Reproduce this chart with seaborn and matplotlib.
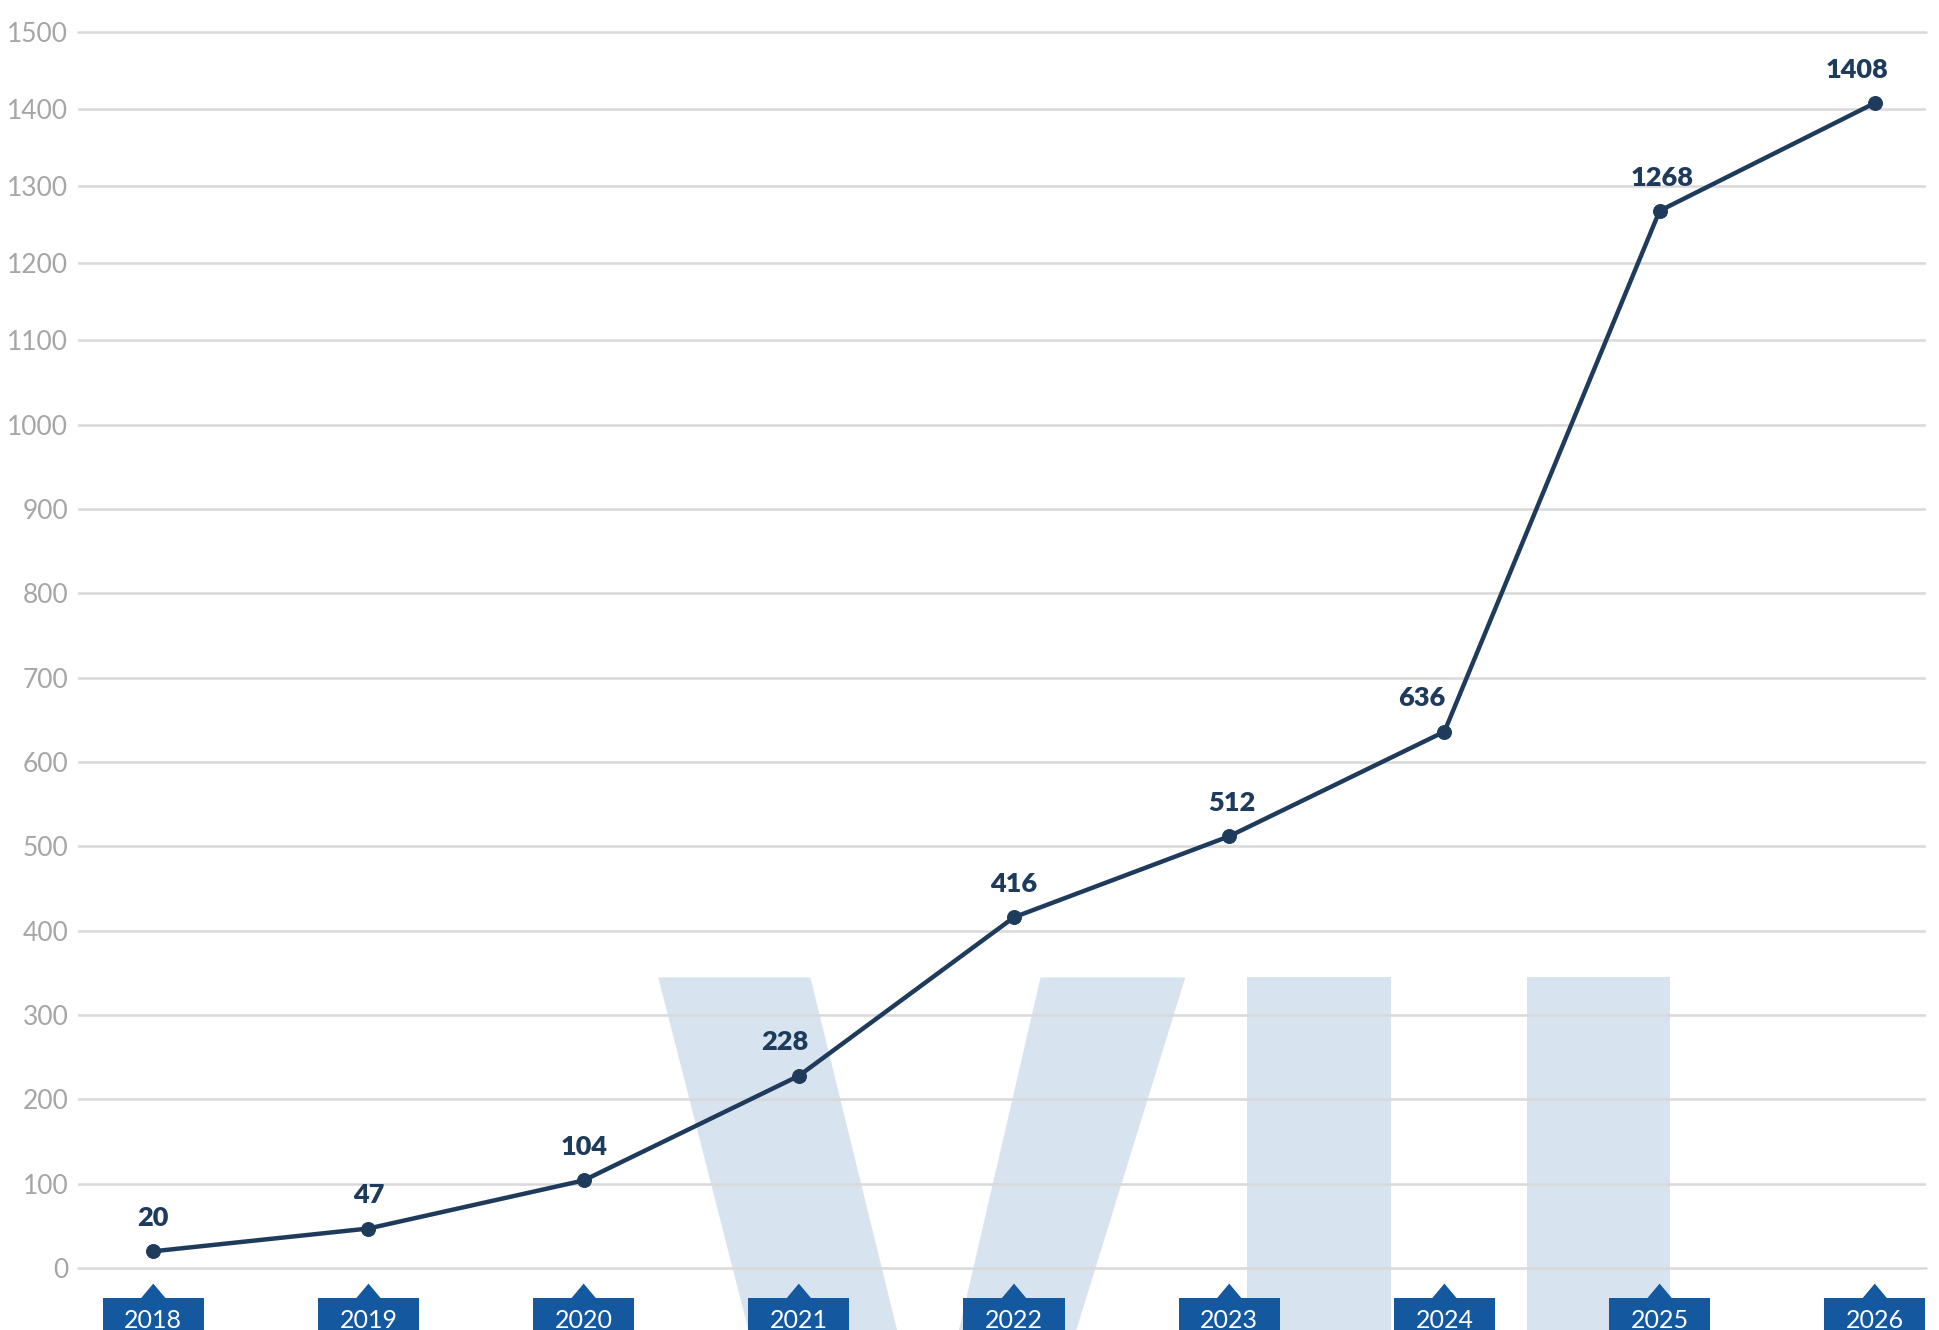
import numpy as np
import pandas as pd
import matplotlib
matplotlib.use("Agg")
import matplotlib.pyplot as plt
import seaborn as sns
from matplotlib.patches import Polygon, Rectangle
from matplotlib.transforms import blended_transform_factory

# --- data ---
years = [2018, 2019, 2020, 2021, 2022, 2023, 2024, 2025, 2026]
values = [20, 47, 104, 228, 416, 512, 636, 1268, 1408]
y_ticks = list(range(0, 1600, 100))

# small horizontal nudges of the value labels (points)
label_dx = [0, 0, 0, -10, 0, 2, -16, 2, -13]

LINE = "#1f3b5c"
BOX = "#1458a0"
GRID = "#d9d9d9"
TICK = "#a6a6a6"
WATERMARK = "#d7e3ef"

sns.set_theme(style="white")
plt.rcParams["font.family"] = ["Lato", "DejaVu Sans"]

df = pd.DataFrame({"year": years, "value": values})

fig = plt.figure(figsize=(19.4, 13.3), dpi=100)
ax = fig.add_axes([0.0402, 0.0465, 0.9528, 0.9293])
ax.patch.set_visible(False)

# y axis of the original is stretched a little below 1100
def fwd(v):
    return np.interp(v, [0, 1100, 1500], [0, 750, 999])

def inv(p):
    return np.interp(p, [0, 750, 999], [0, 1100, 1500])

ax.set_yscale("function", functions=(fwd, inv))

# --- "VII" watermark behind everything ---
wm_top = 0.2651
shapes = [
    [(0.3393, wm_top), (0.4177, wm_top), (0.4624, 0), (0.3858, 0)],
    [(0.5364, wm_top), (0.6110, wm_top), (0.5548, 0), (0.4943, 0)],
    [(0.6429, wm_top), (0.7168, wm_top), (0.7168, 0), (0.6429, 0)],
    [(0.7870, wm_top), (0.8610, wm_top), (0.8610, 0), (0.7870, 0)],
]
for pts in shapes:
    fig.add_artist(Polygon(pts, closed=True, transform=fig.transFigure,
                           facecolor=WATERMARK, edgecolor="none", zorder=-5))

sns.lineplot(data=df, x="year", y="value", ax=ax, color=LINE, linewidth=3.2,
             marker="o", markersize=10, markeredgecolor=LINE, zorder=5)

for yr, v, dx in zip(years, values, label_dx):
    ax.annotate(str(v), (yr, v), xytext=(dx, 24), textcoords="offset points",
                ha="center", va="center", fontsize=19.5, fontweight="heavy",
                color=LINE, zorder=6)

ax.set_xlim(2017.65, 2026.24)
ax.set_ylim(0, 1500)
ax.set_yticks(y_ticks)
ax.set_yticklabels([str(t) for t in y_ticks], fontsize=19, color=TICK,
                   fontweight="normal")
ax.tick_params(axis="y", length=0, pad=7)
ax.set_xticks([])
ax.set_xlabel("")
ax.set_ylabel("")
ax.grid(axis="y", color=GRID, linewidth=1.8)
ax.grid(axis="x", visible=False)
for s in ax.spines.values():
    s.set_visible(False)
ax.yaxis.get_gridlines()[0].set_clip_on(False)
ax.yaxis.get_gridlines()[-1].set_clip_on(False)

# --- year badges under the axis ---
trans = blended_transform_factory(ax.transData, ax.transAxes)
box_w = 0.47
tri_w = 0.116
for yr in years:
    ax.add_patch(Rectangle((yr - box_w / 2, -0.08), box_w, 0.0557,
                           transform=trans, facecolor=BOX, edgecolor="none",
                           clip_on=False, zorder=4))
    ax.add_patch(Polygon([(yr - tri_w / 2, -0.0245), (yr + tri_w / 2, -0.0245),
                          (yr, -0.0125)], closed=True, transform=trans,
                         facecolor=BOX, edgecolor="none", clip_on=False, zorder=4))
    ax.text(yr, -0.042, str(yr), transform=trans, ha="center", va="center",
            fontsize=18, color="white", zorder=5, clip_on=False)

fig.savefig("out.png", dpi=100)
